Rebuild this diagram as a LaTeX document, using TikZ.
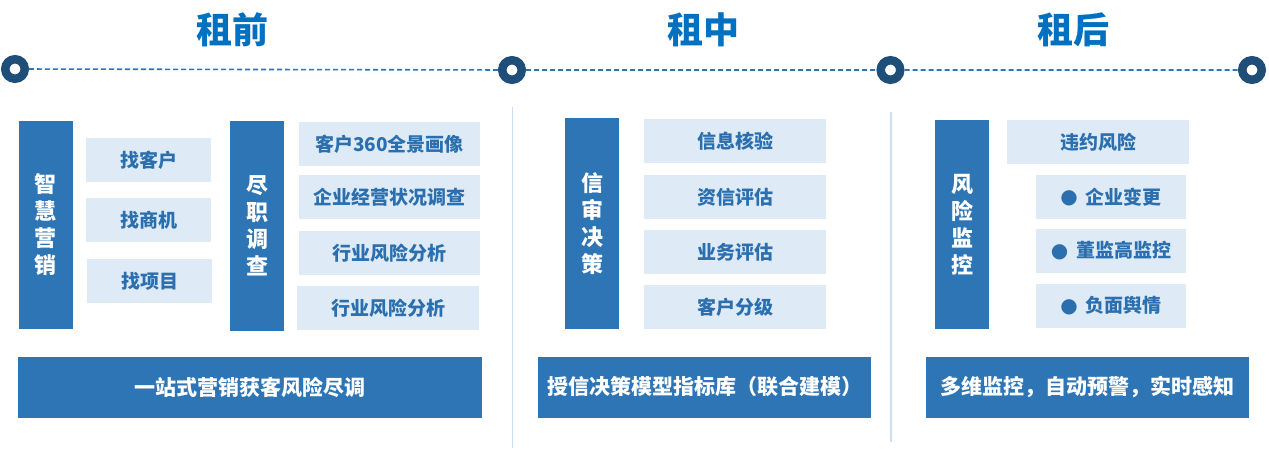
\documentclass[tikz,border=0pt]{standalone}
\usepackage{fontspec}
\newfontfamily\cjk{Noto Sans CJK SC}
\newfontfamily\dotfont{DejaVu Sans}
\usepackage{tikz}
\definecolor{darkblue}{HTML}{2E75B6}
\definecolor{paleblue}{HTML}{DEEBF7}
\definecolor{textblue}{HTML}{2C6FAE}
\definecolor{titleblue}{HTML}{0070C0}
\definecolor{ringblue}{HTML}{1F4E79}
\definecolor{sepblue}{HTML}{C9DEF1}
\newcommand{\dotmark}{\raisebox{0.5pt}{\dotfont\fontsize{20}{20}\selectfont ●}\hspace{8pt}}

\begin{document}
\begin{tikzpicture}[x=1pt, y=-1pt,
    every node/.style={font=\cjk\bfseries, inner sep=0pt},
    pillar/.style={fill=darkblue, text=white, minimum width=54pt, align=center, font=\cjk\bfseries\fontsize{22}{27}\selectfont},
    item/.style={fill=paleblue, text=textblue, minimum height=44pt, font=\cjk\bfseries\fontsize{19}{19}\selectfont},
    banner/.style={fill=darkblue, text=white, minimum height=61pt, font=\cjk\bfseries\fontsize{21}{21}\selectfont},
    phase/.style={text=titleblue, font=\cjk\bfseries\fontsize{36}{36}\selectfont},
    ring/.style={circle, draw=ringblue, line width=8.5pt, fill=white, minimum size=19.5pt},
    track/.style={draw=darkblue, line width=1.6pt, dash pattern=on 5pt off 3pt},
    divider/.style={draw=sepblue, line width=1.5pt}]
    \useasboundingbox (0, 0) rectangle (1269, 450);

    % timeline
    \node[phase] at (232, 30) (before) {租前};
    \node[phase] at (703, 30) (during) {租中};
    \node[phase] at (1073, 30) (after) {租后};

    \node[ring] at (15, 69) (t1) {};
    \node[ring] at (512, 70) (t2) {};
    \node[ring] at (890.5, 70) (t3) {};
    \node[ring] at (1252, 70) (t4) {};
    \draw[track] (t1) -- (t2) -- (t3) -- (t4);

    \draw[divider] (512.5, 107) -- (512.5, 448);
    \draw[divider] (891, 112) -- (891, 442);

    % before
    \node[pillar, minimum height=208pt] at (45.5, 225) (mkt) {智\\慧\\营\\销};
    \node[item, minimum width=125pt] at (148.5, 160) (m1) {找客户};
    \node[item, minimum width=125pt] at (148.5, 220) (m2) {找商机};
    \node[item, minimum width=125pt] at (149.5, 281) (m3) {找项目};

    \node[pillar, minimum height=210pt] at (257, 226) (dd) {尽\\职\\调\\查};
    \node[item, minimum width=181pt] at (389.5, 144) (d1) {客户360全景画像};
    \node[item, minimum width=181pt] at (389.5, 197) (d2) {企业经营状况调查};
    \node[item, minimum width=181pt] at (389.5, 253) (d3) {行业风险分析};
    \node[item, minimum width=182pt] at (388, 308) (d4) {行业风险分析};

    \node[banner, minimum width=464pt] at (250, 387.5) (b1) {一站式营销获客风险尽调};

    % during
    \node[pillar, minimum height=211pt] at (592, 223.5) (credit) {信\\审\\决\\策};
    \node[item, minimum width=182pt] at (735, 141) (c1) {信息核验};
    \node[item, minimum width=182pt] at (735, 197) (c2) {资信评估};
    \node[item, minimum width=182pt] at (735, 252) (c3) {业务评估};
    \node[item, minimum width=182pt] at (735, 307) (c4) {客户分级};

    \node[banner, minimum width=333pt] at (704.5, 387) (b2) {授信决策模型指标库（联合建模）};

    % after
    \node[pillar, minimum height=209pt] at (962, 224.5) (risk) {风\\险\\监\\控};
    \node[item, minimum width=182pt] at (1098, 142) (r1) {违约风险};
    \node[item, minimum width=150pt] at (1111, 197) (r2) {\dotmark 企业变更};
    \node[item, minimum width=150pt] at (1111, 250.5) (r3) {\dotmark 董监高监控};
    \node[item, minimum width=150pt] at (1111, 305.5) (r4) {\dotmark 负面舆情};

    \node[banner, minimum width=323pt] at (1087.5, 387) (b3) {多维监控，自动预警，实时感知};
\end{tikzpicture}
\end{document}
